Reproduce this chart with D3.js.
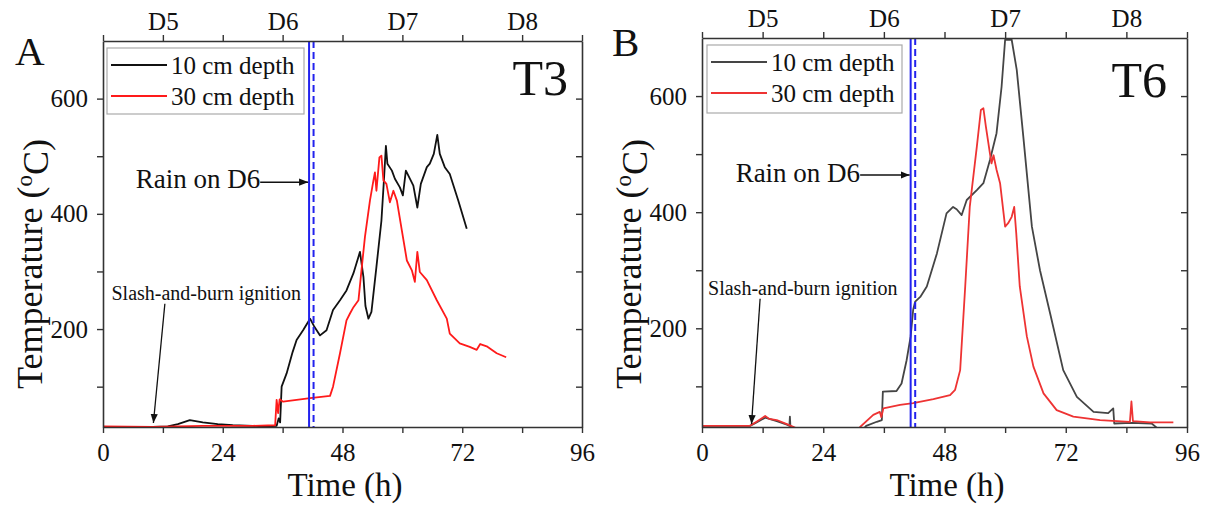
<!DOCTYPE html>
<html>
<head>
<meta charset="utf-8">
<script src="https://cdn.jsdelivr.net/npm/d3@7"></script>
<style>
  body { margin: 0; background: #fff; }
  svg { display: block; }
  text { font-family: "Liberation Serif", "Times New Roman", serif; fill: #111; }
</style>
</head>
<body>
<div id="chart"></div>
<script>
// hours, temperature (oC)
var t3Depth10 = [[0,30],[10,30],[13,31],[15,35],[17.4,42],[20,38],[23,35],[26,33],[30,32],[33,31],[34.8,32],[35.2,45],[35.5,38],[35.8,100],[36.8,123],[38,160],[38.8,181],[40.1,198],[41.5,218],[42.3,205],[43.5,189],[44.8,198],[46.1,233],[47.5,250],[48.8,267],[50.2,297],[51.5,334],[52.2,290],[52.6,240],[53.2,218],[53.8,230],[54.8,308],[55.8,388],[56.3,458],[56.7,518],[57.0,487],[57.9,475],[58.5,461],[59.5,446],[60.1,432],[60.7,475],[61.5,461],[62.2,449],[63.0,411],[63.7,452],[64.9,481],[65.5,487],[66.3,504],[67.0,537],[67.5,504],[68.5,481],[69.5,469],[71.2,423],[72.9,374]];
var t3Depth30 = [[0,31],[10,30],[20,32],[30,32],[34.5,33],[34.8,77],[35.1,54],[35.4,78],[36.1,74],[41.5,80],[45.5,84],[46.1,100],[47.5,158],[48.8,215],[49.5,227],[50.2,238],[51.2,250],[51.8,302],[52.5,360],[53.5,423],[54.2,458],[54.5,472],[54.8,440],[55.4,498],[55.8,501],[56.2,458],[56.8,452],[57.5,420],[58.2,440],[58.9,423],[59.9,371],[60.9,319],[61.9,302],[62.5,282],[63.0,334],[63.5,299],[64.9,285],[66.9,250],[68.9,218],[69.5,192],[71.5,175],[73.5,169],[74.9,164],[75.6,174],[76.9,170],[78.9,158],[80.8,151]];
var t6Depth10 = [[0,32],[9.5,32],[10.8,38],[12.5,46],[14.8,40],[16.8,34],[17.3,32],[17.4,48],[17.5,31],[18.5,27],[19,22],[31.5,22],[32.5,32],[34.6,39],[35.6,42],[35.8,91],[38.5,92],[39.5,105],[40.5,145],[41.3,186],[41.8,232],[42.2,246],[43.2,254],[44.5,272],[46.5,329],[48.4,398],[49.7,409],[50.4,405],[51.4,395],[52.4,421],[54.4,438],[55.7,450],[57.0,490],[58.3,536],[59.3,616],[60.0,697],[61.3,697],[62.3,645],[63.6,530],[65.3,375],[66.9,300],[68.9,226],[71.5,128],[74.2,82],[77.5,56],[80.4,54],[81.4,62],[81.6,36],[85,37],[89.0,36],[90.0,29]];
var t6Depth30 = [[0,32],[9.5,32],[10.8,39],[12.5,49],[13.3,44],[14.8,42],[16.8,35],[18.4,29],[19,22],[30.5,22],[31.3,30],[33.9,51],[35.2,56],[35.5,47],[35.9,62],[39.2,68],[41.8,71],[45.8,78],[49.1,85],[50.1,94],[51.1,128],[52.1,272],[53.0,409],[54.4,513],[55.2,576],[55.7,579],[56.2,547],[57.0,501],[57.3,484],[57.7,498],[58.3,473],[59.0,450],[60.0,375],[60.6,381],[61.3,392],[61.8,409],[62.2,364],[62.9,272],[64.3,186],[65.6,134],[67.6,88],[70.2,59],[73.5,48],[78.8,42],[84.7,39],[85.0,74],[85.3,40],[88.7,38],[93.3,38]];

var hourTicks = [0, 12, 24, 36, 48, 60, 72, 84, 96];
var dayTicks = [12, 36, 60, 84];
var dayLabels = ["D5", "D6", "D7", "D8"];
var tempTicks = [100, 200, 300, 400, 500, 600];
var tempLabels = [200, 400, 600];
var rainHours = [41.3, 42.2];
var seriesNames = ["10 cm depth", "30 cm depth"];

var panels = [
    {id: "A", tag: "T3", series: [t3Depth10, t3Depth30], colors: ["#111111", "#ff1a1a"],
     left: 103, right: 582, top: 41, bottom: 427,
     letter: [15, 65], tagPos: [568, 95], legend: [107, 48, 197, 66], yTitleX: 42, timeX: 345,
     rain: {h: 31.5, t: 445, arrowT: 455}, slash: {h: 1.7, t: 250, from: [12.4, 244], to: [10.1, 37]}},
    {id: "B", tag: "T6", series: [t6Depth10, t6Depth30], colors: ["#454545", "#ee3333"],
     left: 702, right: 1187, top: 38, bottom: 427,
     letter: [612, 56], tagPos: [1167, 97], legend: [707, 45, 195, 68], yTitleX: 641, timeX: 947,
     rain: {h: 31.3, t: 452, arrowT: 464}, slash: {h: 1.2, t: 257, from: [11.5, 251], to: [9.8, 35]}}
];

var svg = d3.select("#chart").append("svg")
    .attr("width", 1206)
    .attr("height", 506);

svg.append("defs").append("marker")
    .attr("id", "arrow")
    .attr("viewBox", "0 0 10 10")
    .attr("refX", 10).attr("refY", 5)
    .attr("markerWidth", 9).attr("markerHeight", 9)
    .attr("markerUnits", "userSpaceOnUse")
    .attr("orient", "auto")
    .append("path")
    .attr("d", "M0,1 L10,5 L0,9 Z")
    .attr("fill", "#111");

panels.forEach(function (p) {
    var x = d3.scaleLinear().domain([0, 96]).range([p.left, p.right]);
    var y = d3.scaleLinear().domain([30, 700]).range([p.bottom, p.top]);
    var g = svg.append("g");

    g.append("clipPath").attr("id", "clip" + p.id)
        .append("rect")
        .attr("x", p.left).attr("y", p.top)
        .attr("width", p.right - p.left).attr("height", p.bottom - p.top);

    var line = d3.line()
        .x(function (d) { return x(d[0]); })
        .y(function (d) { return y(d[1]); });

    p.series.forEach(function (s, i) {
        g.append("path")
            .datum(s)
            .attr("clip-path", "url(#clip" + p.id + ")")
            .attr("fill", "none")
            .attr("stroke", p.colors[i])
            .attr("stroke-width", 1.8)
            .attr("stroke-linejoin", "round")
            .attr("d", line);
    });

    // rain markers
    rainHours.forEach(function (h, i) {
        g.append("line")
            .attr("x1", x(h)).attr("x2", x(h))
            .attr("y1", p.top).attr("y2", p.bottom)
            .attr("stroke", "#2222ee")
            .attr("stroke-width", 2)
            .attr("stroke-dasharray", i === 1 ? "7,4" : null);
    });

    // axes
    var fmtY = function (d) { return tempLabels.indexOf(d) >= 0 ? d : ""; };
    var axes = [
        g.append("g").attr("transform", "translate(0," + p.bottom + ")")
            .call(d3.axisBottom(x).tickValues(hourTicks).tickSize(6).tickPadding(10).tickSizeOuter(0)
                .tickFormat(function (d) { return d % 24 === 0 ? d : ""; })),
        g.append("g").attr("transform", "translate(0," + p.top + ")")
            .call(d3.axisTop(x).tickValues(hourTicks).tickSize(6).tickPadding(5).tickSizeOuter(0)
                .tickFormat(function (d) { var k = dayTicks.indexOf(d); return k >= 0 ? dayLabels[k] : ""; })),
        g.append("g").attr("transform", "translate(" + p.left + ",0)")
            .call(d3.axisLeft(y).tickValues(tempTicks).tickSize(6).tickPadding(9).tickSizeOuter(0).tickFormat(fmtY)),
        g.append("g").attr("transform", "translate(" + p.right + ",0)")
            .call(d3.axisLeft(y).tickValues(tempTicks).tickSize(6).tickSizeOuter(0).tickFormat(""))
    ];
    axes.forEach(function (a) {
        a.select(".domain").attr("stroke", "#333").attr("stroke-width", 1.6);
        a.selectAll(".tick line").attr("stroke", "#333").attr("stroke-width", 1.4);
        a.selectAll("text").style("font-size", "25px").style("font-family", "Liberation Serif").attr("fill", "#111");
    });

    // axis titles
    g.append("text")
        .attr("x", p.timeX).attr("y", 496)
        .attr("text-anchor", "middle")
        .style("font-size", "33px")
        .text("Time (h)");

    var yt = g.append("text")
        .attr("transform", "translate(" + p.yTitleX + ",264) rotate(-90)")
        .attr("text-anchor", "middle")
        .style("font-size", "36px");
    yt.append("tspan").text("Temperature (");
    yt.append("tspan").attr("dy", "-0.45em").style("font-size", "23px").text("o");
    yt.append("tspan").attr("dy", "0.45em").text("C)");

    g.append("text")
        .attr("x", p.letter[0]).attr("y", p.letter[1])
        .style("font-size", "41px")
        .text(p.id);

    g.append("text")
        .attr("x", p.tagPos[0]).attr("y", p.tagPos[1])
        .attr("text-anchor", "end")
        .style("font-size", "50px")
        .text(p.tag);

    // legend
    var lb = p.legend;
    g.append("rect")
        .attr("x", lb[0]).attr("y", lb[1])
        .attr("width", lb[2]).attr("height", lb[3])
        .attr("fill", "#fff")
        .attr("stroke", "#aaa")
        .attr("stroke-width", 1.2);
    seriesNames.forEach(function (name, i) {
        var ry = lb[1] + 17 + i * 31;
        g.append("line")
            .attr("x1", lb[0] + 4).attr("x2", lb[0] + 60)
            .attr("y1", ry).attr("y2", ry)
            .attr("stroke", p.colors[i])
            .attr("stroke-width", 1.8);
        g.append("text")
            .attr("x", lb[0] + 64).attr("y", ry + 9)
            .style("font-size", "25px")
            .text(name);
    });

    // annotations
    g.append("text")
        .attr("x", x(p.rain.h)).attr("y", y(p.rain.t))
        .attr("text-anchor", "end")
        .style("font-size", "27px")
        .text("Rain on D6");
    g.append("line")
        .attr("x1", x(p.rain.h)).attr("x2", x(rainHours[0]) - 1)
        .attr("y1", y(p.rain.arrowT)).attr("y2", y(p.rain.arrowT))
        .attr("stroke", "#111").attr("stroke-width", 1.5)
        .attr("marker-end", "url(#arrow)");

    g.append("text")
        .attr("x", x(p.slash.h)).attr("y", y(p.slash.t))
        .style("font-size", "20px")
        .attr("fill", "#222")
        .text("Slash-and-burn ignition");
    g.append("line")
        .attr("x1", x(p.slash.from[0])).attr("y1", y(p.slash.from[1]))
        .attr("x2", x(p.slash.to[0])).attr("y2", y(p.slash.to[1]))
        .attr("stroke", "#111").attr("stroke-width", 1.3)
        .attr("marker-end", "url(#arrow)");
});
</script>
</body>
</html>
